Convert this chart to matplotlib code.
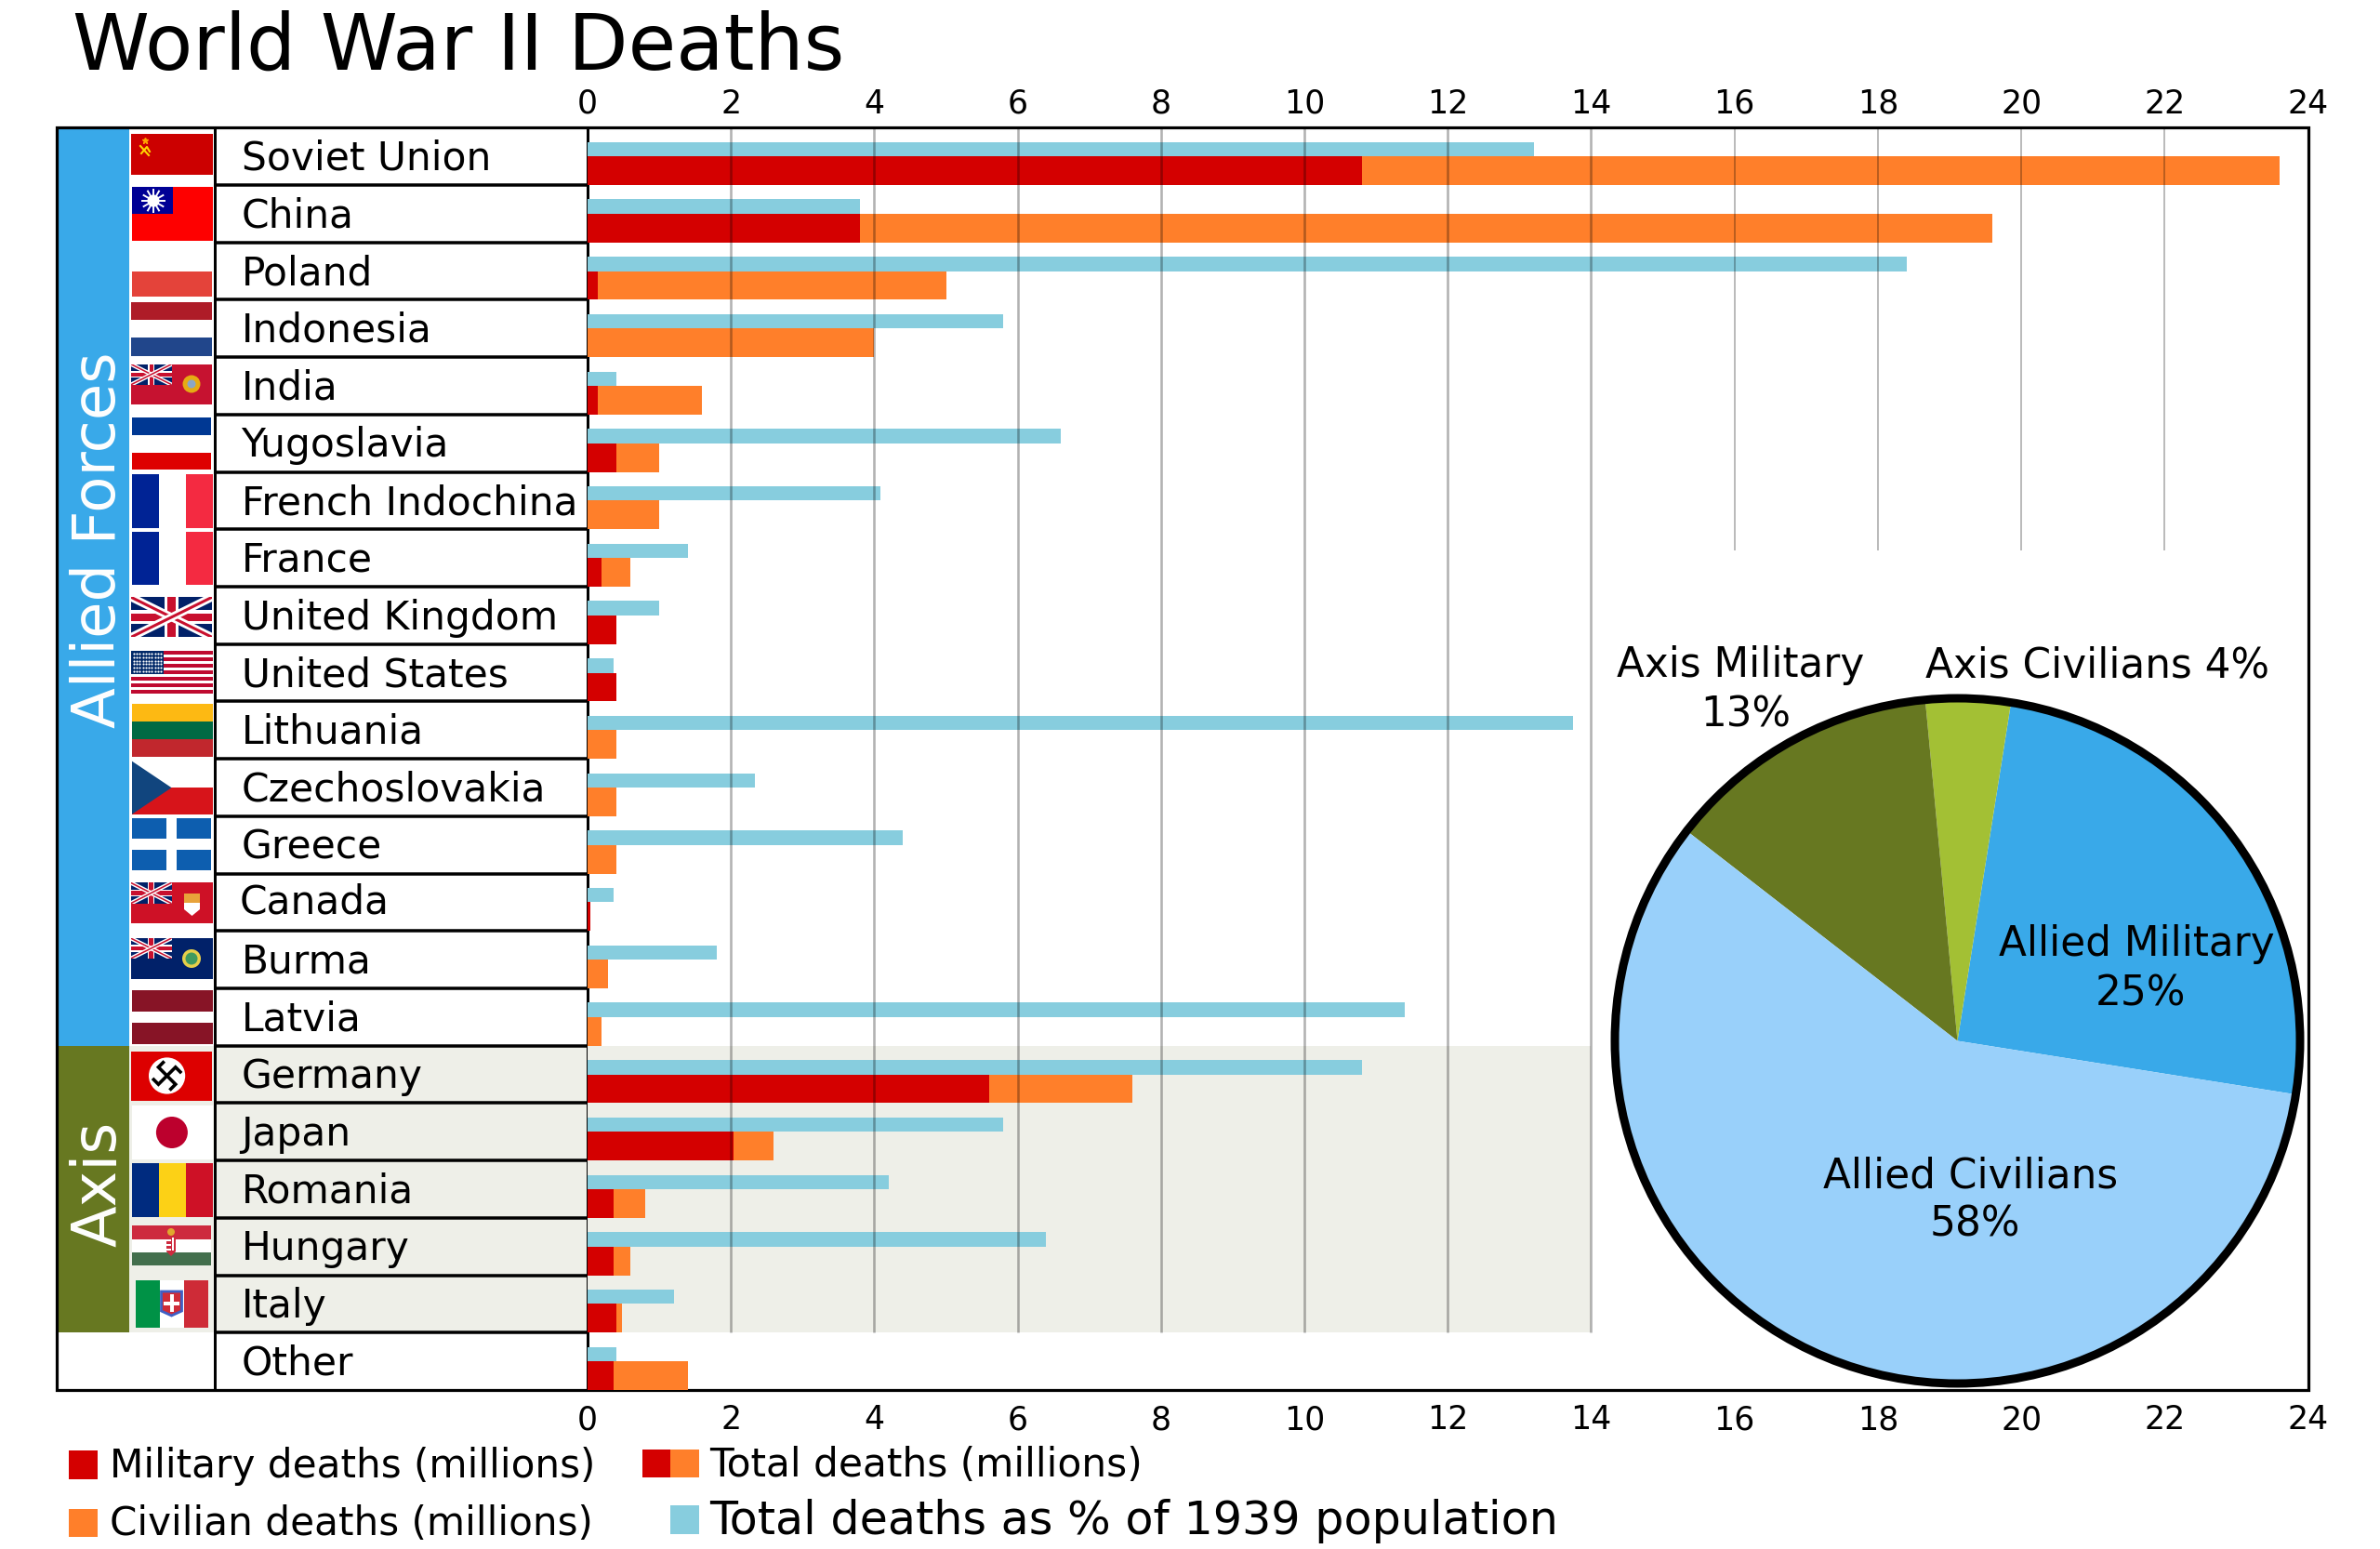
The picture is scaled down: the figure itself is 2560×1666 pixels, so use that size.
import numpy as np
import matplotlib
matplotlib.use("Agg")
import matplotlib.pyplot as plt
from matplotlib.patches import Rectangle, Circle, Polygon

#data
countries = ["Soviet Union", "China", "Poland", "Indonesia", "India", "Yugoslavia",
             "French Indochina", "France", "United Kingdom", "United States", "Lithuania",
             "Czechoslovakia", "Greece", "Canada", "Burma", "Latvia", "Germany", "Japan",
             "Romania", "Hungary", "Italy", "Other"]
military = [10.8, 3.8, 0.14, 0, 0.14, 0.4, 0, 0.2, 0.4, 0.4, 0, 0, 0, 0.04, 0, 0,
            5.6, 2.03, 0.36, 0.36, 0.4, 0.36]
civilian = [12.8, 15.8, 4.86, 4.0, 1.46, 0.6, 1.0, 0.4, 0, 0, 0.4, 0.4, 0.4, 0, 0.28, 0.2,
            2.0, 0.57, 0.44, 0.24, 0.08, 1.04]
percent = [13.2, 3.8, 18.4, 5.8, 0.4, 6.6, 4.08, 1.4, 1.0, 0.36, 13.75, 2.33, 4.4, 0.36,
           1.8, 11.4, 10.8, 5.8, 4.2, 6.4, 1.2, 0.4]
x_ticks = list(range(0, 25, 2))
pie_labels = ["Allied Military", "Axis Civilians", "Axis Military", "Allied Civilians"]
pie_shares = [25, 4, 13, 58]

RED = "#d40000"
ORANGE = "#ff7f2a"
LBLUE = "#87cdde"
ALLIED = "#39a9e9"
AXIS = "#677821"
AXIS_CIV = "#a3c034"
ALLIED_CIV = "#99d0fa"
SHADE = "#eeefe8"
PT = 0.72  # px to pt at dpi 100

LEFT, RIGHT, TOP, BOTTOM = 632, 2482.5, 137.3, 1495
ROW = (BOTTOM - TOP) / 22

fig = plt.figure(figsize=(25.6, 16.66), dpi=100)

#background layer in pixels, flags and frames go here
bg = fig.add_axes([0, 0, 1, 1])
bg.set_xlim(0, 2560)
bg.set_ylim(1666, 0)
bg.axis("off")


def box(x0, y0, x1, y1, color, **kw):
    bg.add_patch(Rectangle((x0, y0), x1 - x0, y1 - y0, facecolor=color, edgecolor="none", **kw))


def hbands(x0, x1, y0, y1, colors):
    h = (y1 - y0) / len(colors)
    for i, c in enumerate(colors):
        box(x0, y0 + i * h, x1, y0 + (i + 1) * h, c)


def vbands(x0, x1, y0, y1, colors):
    w = (x1 - x0) / len(colors)
    for i, c in enumerate(colors):
        box(x0 + i * w, y0, x0 + (i + 1) * w, y1, c)


def union_jack(x0, y0, x1, y1):
    box(x0, y0, x1, y1, "#012169")
    r = Rectangle((x0, y0), x1 - x0, y1 - y0, transform=bg.transData)
    h = y1 - y0
    for a, b in [((x0, y0), (x1, y1)), ((x0, y1), (x1, y0))]:
        l = bg.plot([a[0], b[0]], [a[1], b[1]], color="white", lw=h * 0.2 * PT, solid_capstyle="butt")[0]
        l.set_clip_path(r)
        l = bg.plot([a[0], b[0]], [a[1], b[1]], color="#c8102e", lw=h * 0.07 * PT, solid_capstyle="butt")[0]
        l.set_clip_path(r)
    xm, ym = (x0 + x1) / 2, (y0 + y1) / 2
    box(xm - h * 0.17, y0, xm + h * 0.17, y1, "white")
    box(x0, ym - h * 0.17, x1, ym + h * 0.17, "white")
    box(xm - h * 0.1, y0, xm + h * 0.1, y1, "#c8102e")
    box(x0, ym - h * 0.1, x1, ym + h * 0.1, "#c8102e")


#side bands
box(61, TOP, 139, TOP + 16 * ROW, ALLIED)
box(61, TOP + 16 * ROW, 139, TOP + 21 * ROW, AXIS)
box(139, TOP + 16 * ROW, LEFT, TOP + 21 * ROW, SHADE)
bg.text(124, 581, "Allied Forces", color="white", fontsize=46.2, rotation=90,
        ha="center", va="baseline", rotation_mode="anchor")
bg.text(124, 1273, "Axis", color="white", fontsize=47, rotation=90,
        ha="center", va="baseline", rotation_mode="anchor")

#flags
box(141, 144, 228.6, 187.7, "#cc0000")
bg.plot([152, 158, 161], [165, 158, 163], color="#ffd700", lw=1.5)
bg.plot([151, 160], [157, 167], color="#ffd700", lw=1.5)
bg.plot([156], [151], marker="*", ms=5, color="#ffa500")

box(142.4, 201.3, 228.6, 259, "#fe0000")
box(142.4, 201.3, 185.7, 230, "#000095")
for a in np.linspace(0, 2 * np.pi, 12, endpoint=False):
    bg.plot([165, 165 + 12 * np.cos(a)], [216, 216 + 12 * np.sin(a)], color="white", lw=1.4)
bg.add_patch(Circle((165, 216), 7, fc="white", ec="#000095", lw=0.6))

box(142.4, 292, 227.6, 318.7, "#e4433a")
hbands(141, 228, 324.7, 382.7, ["#ae1c28", "white", "#21468b"])

box(141, 391.7, 228, 435, "#c61230")
union_jack(141, 391.7, 184.5, 413.7)
bg.add_patch(Circle((206, 413), 9.5, fc="#e6ab13", ec="none"))
bg.add_patch(Circle((206, 413), 4.5, fc="#8aa6c8", ec="none"))

hbands(142, 226.5, 449, 505.3, ["#003893", "white", "#de0000"])
vbands(142, 228.6, 510, 567.7, ["#002395", "white", "#f42a41"])
vbands(142, 228.6, 571.7, 629, ["#002395", "white", "#f42a41"])
union_jack(141, 642.3, 228, 685.3)

#us flag
hbands(141, 228.6, 700, 746, ["#bf0a30", "white"] * 6 + ["#bf0a30"])
box(141, 700, 176, 724.7, "#002868")
sx, sy = np.meshgrid(np.linspace(144, 173, 10), np.linspace(703, 722, 6))
bg.scatter(sx.ravel(), sy.ravel(), s=2.5, color="white", linewidths=0, zorder=3)

hbands(142, 228.6, 756.7, 814.3, ["#fdb913", "#006a44", "#c1272d"])
box(142, 818.7, 228.6, 847.2, "white")
box(142, 847.2, 228.6, 875.7, "#d7141a")
bg.add_patch(Polygon([(142, 818.7), (184.5, 847.2), (142, 875.7)], fc="#11457e", ec="none"))

box(142, 880, 227, 936.3, "#0d5eaf")
box(178.8, 880, 189.8, 936.3, "white")
box(142, 902.3, 227, 914, "white")

box(140.5, 949.3, 228.6, 993, "#ce1126")
union_jack(140.5, 949.3, 184.5, 971.7)
box(198, 961, 215, 971, "#e8a33a")
bg.add_patch(Polygon([(198, 971), (215, 971), (215, 978), (206.5, 985), (198, 978)], fc="white", ec="none"))

box(140.5, 1009, 228.6, 1052.7, "#012169")
union_jack(140.5, 1009, 184.5, 1031)
bg.add_patch(Circle((206, 1031), 10, fc="#e6cf4a", ec="none"))
bg.add_patch(Circle((206, 1031), 6.5, fc="#3f9a5f", ec="none"))

hbands(142, 228.6, 1065, 1122.7, ["#871426"] * 2 + ["white"] + ["#871426"] * 2)

box(140.5, 1130.5, 228, 1183.5, "#dd0000")
bg.add_patch(Circle((179.6, 1157), 19.6, fc="white", ec="none"))
ang = np.deg2rad(45)
for sgn in (1, -1):
    for a0 in (0, np.pi / 2):
        t = ang + a0
        cx, cy = np.cos(t) * sgn, np.sin(t) * sgn
        ex, ey = 179.6 + 13 * cx, 1157 + 13 * cy
        bg.plot([179.6, ex, ex - 9 * cy], [1157, ey, ey + 9 * cx], color="black", lw=2.6,
                solid_capstyle="butt", solid_joinstyle="miter")

box(142, 1189, 228.6, 1246.6, "white")
bg.add_patch(Circle((184.9, 1218), 17, fc="#bc002d", ec="none"))
vbands(142, 228.6, 1251, 1308.6, ["#002b7f", "#fcd116", "#ce1126"])
hbands(142, 227, 1318.4, 1361, ["#cd2a3e", "white", "#436f4d"])
bg.add_patch(Polygon([(179, 1329), (189, 1329), (189, 1346), (184, 1351), (179, 1346)],
                     fc="#cd2a3e", ec="none"))
for yy in (1333, 1338, 1343):
    box(179, yy, 184, yy + 2, "white")
box(185, 1331, 187, 1345, "white")
bg.add_patch(Circle((184, 1325), 4, fc="#e0a82e", ec="none"))

vbands(146, 223.7, 1376.5, 1428.4, ["#009246", "white", "#ce2b37"])
bg.add_patch(Polygon([(173.5, 1389), (195.5, 1389), (195.5, 1410), (184.5, 1415), (173.5, 1410)],
                     fc="#cf2b37", ec="#3f5fc4", lw=2))
box(182.5, 1392, 186.5, 1411, "white")
box(176, 1399.5, 193, 1403.5, "white")

#label column
label_x = 259.5
for i, name in enumerate(countries):
    y = TOP + i * ROW
    base = y + 45.5
    x = label_x
    if name == "Canada":
        base = y + 42.5
        x = label_x - 2
    bg.text(x, base, name, fontsize=30.5, ha="left", va="baseline")
    if i > 0:
        bg.plot([231, LEFT], [y, y], color="black", lw=3.5 * PT, solid_capstyle="butt")
bg.plot([231, 231], [TOP, BOTTOM], color="black", lw=3 * PT)
bg.plot([LEFT, LEFT], [TOP, BOTTOM], color="black", lw=3 * PT)
bg.add_patch(Rectangle((61, TOP), RIGHT - 61, BOTTOM - TOP, fc="none", ec="black", lw=3.2 * PT, zorder=1))

#bars on real axes
ax = fig.add_axes([LEFT / 2560, 1 - BOTTOM / 1666, (RIGHT - LEFT) / 2560, (BOTTOM - TOP) / 1666])
ax.patch.set_alpha(0)
ax.set_xlim(0, 24)
ax.set_ylim(22, 0)
ax.axhspan(16, 21, xmin=0, xmax=14 / 24, color=SHADE, lw=0, zorder=0)
rows = np.arange(len(countries))
ax.barh(rows + 0.375, percent, height=0.25, color=LBLUE, zorder=2)
ax.barh(rows + 0.75, military, height=0.5, color=RED, zorder=2)
ax.barh(rows + 0.75, civilian, left=military, height=0.5, color=ORANGE, zorder=2)

#grid on top of the bars
ax.vlines(x_ticks[1:8], 0, 21, color="black", alpha=0.3, lw=2.6 * PT, zorder=3)
ax.vlines(x_ticks[8:12], 0, (592 - TOP) / ROW, color="black", alpha=0.28, lw=1.9 * PT, zorder=3)

ax.set_xticks(x_ticks)
ax.set_yticks([])
ax.tick_params(axis="x", length=0, labelsize=25, pad=11)
top_axis = ax.secondary_xaxis("top")
top_axis.set_xticks(x_ticks)
top_axis.tick_params(axis="x", length=0, labelsize=25, pad=6)
top_axis.spines["top"].set_visible(False)
for s in ax.spines.values():
    s.set_visible(False)

#pie
CX, CY, R = 2105.5, 1119.5, 368.5
S = 385
pie_ax = fig.add_axes([(CX - S) / 2560, 1 - (CY + S) / 1666, 2 * S / 2560, 2 * S / 1666])
pie_ax.pie(pie_shares, colors=[ALLIED, AXIS_CIV, AXIS, ALLIED_CIV], startangle=-9, radius=1)
pie_ax.set_xlim(-S / R, S / R)
pie_ax.set_ylim(-S / R, S / R)
pie_ax.add_patch(Circle((0, 0), 1, fc="none", ec="black", lw=9 * PT))

pie_text = [(1872.5, 728, pie_labels[2]), (1878, 781, f"{pie_shares[2]}%"),
            (2256, 728, f"{pie_labels[1]} {pie_shares[1]}%"),
            (2298, 1028, pie_labels[0]), (2302, 1081, f"{pie_shares[0]}%"),
            (2120, 1277, pie_labels[3]), (2124, 1330, f"{pie_shares[3]}%")]
for x, y, s in pie_text:
    pie_ax.text(x, y, s, transform=bg.transData, fontsize=31.5, ha="center", va="baseline", clip_on=False)

#legend and title
box(73.5, 1560, 104.5, 1591, RED)
box(73.5, 1622.5, 104.5, 1653, ORANGE)
bg.text(117.5, 1589, "Military deaths (millions)", fontsize=30.3, va="baseline")
bg.text(117.5, 1651.5, "Civilian deaths (millions)", fontsize=30.3, va="baseline")
box(690.5, 1559, 720.7, 1589, RED)
box(720.7, 1559, 752, 1589, ORANGE)
box(720.7, 1619, 752, 1650, LBLUE)
bg.text(763.5, 1588, "Total deaths (millions)", fontsize=30.4, va="baseline")
bg.text(763.5, 1650, "Total deaths as % of 1939 population", fontsize=35.4, va="baseline")
bg.text(78, 75, "World War II Deaths", fontsize=60.4, va="baseline")

fig.savefig("out.png", dpi=100)
